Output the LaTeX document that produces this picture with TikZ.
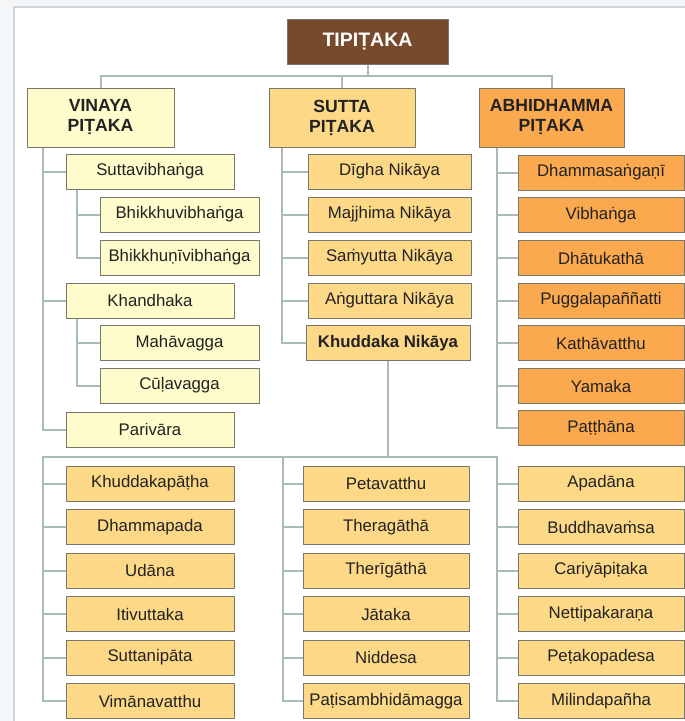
\documentclass[tikz,border=0pt]{standalone}
\usepackage{fontspec}
\setmainfont{Liberation Sans}
\usetikzlibrary{backgrounds,shadows}
\definecolor{tipcol}{HTML}{764A2B}
\definecolor{vincol}{HTML}{FEFCCB}
\definecolor{sutcol}{HTML}{FCD887}
\definecolor{abhcol}{HTML}{FBA94E}
\definecolor{edgecol}{HTML}{77776A}
\definecolor{conncol}{HTML}{A8BABA}
\definecolor{framecol}{HTML}{CDD5D9}
\definecolor{pagecol}{HTML}{F4F6F8}
\definecolor{txtcol}{HTML}{222222}
\tikzset{
  bx/.style={draw=edgecol, line width=0.9pt, inner sep=0pt, text=txtcol,
    font=\fontsize{16.8}{19}\selectfont, align=center,
    drop shadow={shadow xshift=0.8pt, shadow yshift=-0.8pt, opacity=0.2, fill=black}},
  hdr/.style={bx, font=\fontsize{17.6}{20}\selectfont\bfseries, minimum height=59pt},
  vbox/.style={bx, fill=vincol, minimum height=35pt},
  sbox/.style={bx, fill=sutcol, minimum height=35pt},
  abox/.style={bx, fill=abhcol, minimum height=35pt},
  conn/.style={draw=conncol, line width=2pt}
}
\begin{document}
\begin{tikzpicture}[x=1pt,y=-1pt]
\useasboundingbox (0,0) rectangle (685,721);

% top level
\node[bx, fill=tipcol, text=white, font=\fontsize{19.5}{22}\selectfont\bfseries,
  minimum width=161pt, minimum height=45pt] (tip) at (367.5,41.5) {TIPIṬAKA};
\node[hdr, fill=vincol, minimum width=147pt] (vin) at (100.5,117.5) {VINAYA\\PIṬAKA};
\node[hdr, fill=sutcol, minimum width=146pt] (sut) at (342,117.5) {SUTTA\\PIṬAKA};
\node[hdr, fill=abhcol, minimum width=145pt] (abh) at (551.5,117.5) {ABHIDHAMMA\\PIṬAKA};

% Vinaya
\node[vbox, minimum width=168pt] (v1) at (150,171.5) {Suttavibhaṅga};
\node[vbox, minimum width=159pt] (v2) at (179.5,214.5) {Bhikkhuvibhaṅga};
\node[vbox, minimum width=159pt] (v3) at (179.5,257.5) {Bhikkhuṇīvibhaṅga};
\node[vbox, minimum width=168pt] (v4) at (150,300.5) {Khandhaka};
\node[vbox, minimum width=159pt] (v5) at (179.5,343) {Mahāvagga};
\node[vbox, minimum width=159pt] (v6) at (179.5,385.5) {Cūḷavagga};
\node[vbox, minimum width=168pt] (v7) at (150,429.5) {Parivāra};

% Sutta
\node[sbox, minimum width=163pt] (s1) at (389.5,171.5) {Dīgha Nikāya};
\node[sbox, minimum width=163pt] (s2) at (389.5,214.5) {Majjhima Nikāya};
\node[sbox, minimum width=163pt] (s3) at (389.5,257.5) {Saṁyutta Nikāya};
\node[sbox, minimum width=163pt] (s4) at (389.5,300.5) {Aṅguttara Nikāya};
\node[sbox, minimum width=164pt, font=\fontsize{16.8}{19}\selectfont\bfseries] (s5) at (388,343) {Khuddaka Nikāya};

% Abhidhamma
\node[abox, minimum width=166pt] (a1) at (601,172.5) {Dhammasaṅgaṇī};
\node[abox, minimum width=166pt] (a2) at (601,215) {Vibhaṅga};
\node[abox, minimum width=166pt] (a3) at (601,258) {Dhātukathā};
\node[abox, minimum width=166pt] (a4) at (601,300.5) {Puggalapaññatti};
\node[abox, minimum width=166pt] (a5) at (601,343) {Kathāvatthu};
\node[abox, minimum width=166pt] (a6) at (601,386) {Yamaka};
\node[abox, minimum width=166pt] (a7) at (601,428) {Paṭṭhāna};

% Khuddaka books
\node[sbox, minimum width=168pt] (k1) at (150,483.5) {Khuddakapāṭha};
\node[sbox, minimum width=168pt] (k2) at (150,527) {Dhammapada};
\node[sbox, minimum width=168pt] (k3) at (150,570.5) {Udāna};
\node[sbox, minimum width=168pt] (k4) at (150,614) {Itivuttaka};
\node[sbox, minimum width=168pt] (k5) at (150,657.5) {Suttanipāta};
\node[sbox, minimum width=168pt] (k6) at (150,701) {Vimānavatthu};

\node[sbox, minimum width=166pt] (m1) at (386,483.5) {Petavatthu};
\node[sbox, minimum width=166pt] (m2) at (386,527) {Theragāthā};
\node[sbox, minimum width=166pt] (m3) at (386,570.5) {Therīgāthā};
\node[sbox, minimum width=166pt] (m4) at (386,614) {Jātaka};
\node[sbox, minimum width=166pt] (m5) at (386,657.5) {Niddesa};
\node[sbox, minimum width=166pt] (m6) at (386,701) {Paṭisambhidāmagga};

\node[sbox, minimum width=166pt] (r1) at (601,483.5) {Apadāna};
\node[sbox, minimum width=166pt] (r2) at (601,527) {Buddhavaṁsa};
\node[sbox, minimum width=166pt] (r3) at (601,570.5) {Cariyāpiṭaka};
\node[sbox, minimum width=166pt] (r4) at (601,614) {Nettipakaraṇa};
\node[sbox, minimum width=166pt] (r5) at (601,657.5) {Peṭakopadesa};
\node[sbox, minimum width=166pt] (r6) at (601,701) {Milindapañha};

% helper coordinates
\coordinate (ht) at (0,76);
\coordinate (vt) at (43,147);
\coordinate (st) at (282,147);
\coordinate (at) at (497,147);
\coordinate (bl) at (43,457);
\coordinate (bm) at (283,457);
\coordinate (br) at (497,457);

\begin{scope}[on background layer]
\fill[pagecol] (0,0) rectangle (685,721);
\filldraw[fill=white, draw=framecol, line width=1.5pt] (14,7) rectangle (700,730);
% top connectors
\draw[conn] (tip.south) -- (tip.south |- ht);
\draw[conn] (vin.north) -- (vin.north |- ht) -- (abh.north |- ht) -- (abh.north);
\draw[conn] (sut.north) -- (sut.north |- ht);
% Vinaya
\draw[conn] (vt) |- (v7.west);
\foreach \n in {v1,v4} \draw[conn] (\n.west) -- (\n.west -| vt);
\draw[conn] ([xshift=11pt]v1.south west) |- (v3.west);
\draw[conn] (v2.west) -- ++(-23,0);
\draw[conn] ([xshift=11pt]v4.south west) |- (v6.west);
\draw[conn] (v5.west) -- ++(-23,0);
% Sutta
\draw[conn] (st) |- (s5.west);
\foreach \n in {s1,s2,s3,s4} \draw[conn] (\n.west) -- (\n.west -| st);
% Abhidhamma
\draw[conn] (at) |- (a7.west);
\foreach \n in {a1,a2,a3,a4,a5,a6} \draw[conn] (\n.west) -- (\n.west -| at);
% Khuddaka
\draw[conn] (s5.south) -- (s5.south |- bl);
\draw[conn] (k6.west) -| (bl) -- (br) |- (r6.west);
\draw[conn] (bm) |- (m6.west);
\foreach \n in {k1,k2,k3,k4,k5} \draw[conn] (\n.west) -- (\n.west -| bl);
\foreach \n in {m1,m2,m3,m4,m5} \draw[conn] (\n.west) -- (\n.west -| bm);
\foreach \n in {r1,r2,r3,r4,r5} \draw[conn] (\n.west) -- (\n.west -| br);
\end{scope}
\end{tikzpicture}
\end{document}
